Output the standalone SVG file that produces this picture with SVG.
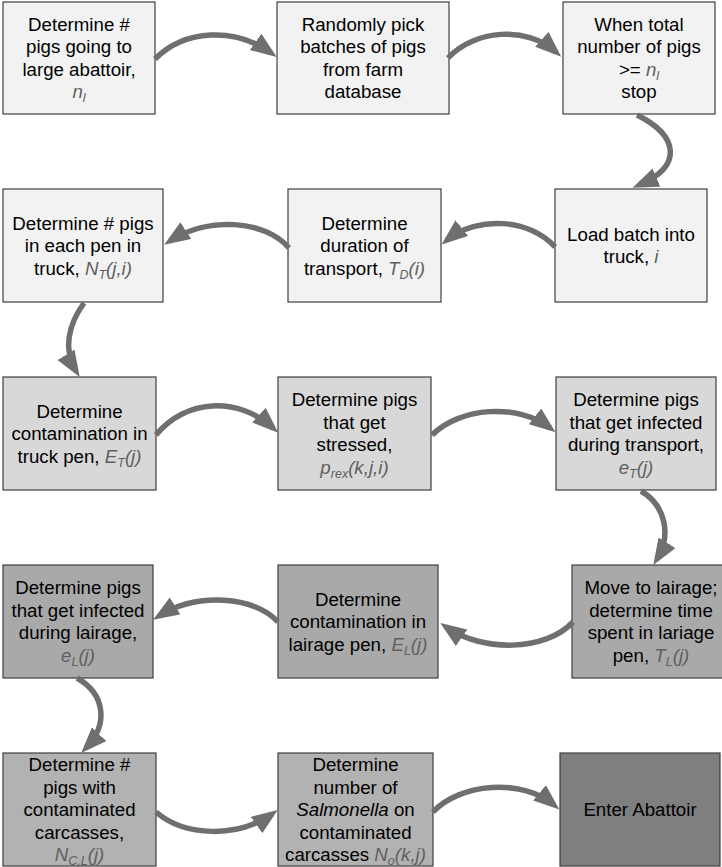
<svg xmlns="http://www.w3.org/2000/svg" width="722" height="867" viewBox="0 0 722 867">
<style>
.box{stroke:#3f3f3f;stroke-width:1.2}
.l1{fill:#f2f2f2}.l2{fill:#d8d8d8}.l3{fill:#a9a9a9}.l4{fill:#b2b2b2}.l5{fill:#7f7f7f}
text{font-family:"Liberation Sans",Arial,sans-serif;font-size:18.7px;fill:#000;text-anchor:middle}
.v{font-style:italic;fill:#5f5f5f}
.s{font-size:12.5px}
.it{font-style:italic}
.con path{fill:none;stroke:#6f6f6f;stroke-width:5.5;marker-end:url(#ah)}
</style>
<defs>
<marker id="ah" markerUnits="userSpaceOnUse" markerWidth="28" markerHeight="22" refX="19" refY="10" orient="auto">
<path d="M0,0 L26,10 L0,20 z" fill="#6f6f6f"/>
</marker>
</defs>
<rect width="722" height="867" fill="#fff"/>

<g id="n1"><rect class="box l1" x="3" y="2" width="152" height="112"/>
<text x="79" y="30.9">Determine #</text><text x="79" y="53.4">pigs going to</text><text x="79" y="75.9">large abattoir,</text>
<text x="79" y="98.4"><tspan class="v">n</tspan><tspan class="v s" dy="4">l</tspan></text></g>

<g id="n2"><rect class="box l1" x="277" y="2" width="172" height="112"/>
<text x="363" y="30.9">Randomly pick</text><text x="363" y="53.4">batches of pigs</text><text x="363" y="75.9">from farm</text><text x="363" y="98.4">database</text></g>

<g id="n3"><rect class="box l1" x="563" y="2" width="152" height="112"/>
<text x="639" y="30.9">When total</text><text x="639" y="53.4">number of pigs</text>
<text x="639" y="75.9">&gt;= <tspan class="v">n</tspan><tspan class="v s" dy="4">l</tspan></text>
<text x="639" y="98.4">stop</text></g>

<g id="n4"><rect class="box l1" x="3" y="189" width="160" height="113"/>
<text x="83" y="229.6">Determine # pigs</text><text x="83" y="252.1">in each pen in</text>
<text x="83" y="274.6">truck, <tspan class="v">N</tspan><tspan class="v s" dy="4">T</tspan><tspan class="v" dy="-4">(j,i)</tspan></text></g>

<g id="n5"><rect class="box l1" x="288" y="189" width="153" height="113"/>
<text x="364.5" y="229.6">Determine</text><text x="364.5" y="252.1">duration of</text>
<text x="364.5" y="274.6">transport, <tspan class="v">T</tspan><tspan class="v s" dy="4">D</tspan><tspan class="v" dy="-4">(i)</tspan></text></g>

<g id="n6"><rect class="box l1" x="555" y="189" width="152" height="113"/>
<text x="631" y="240.9">Load batch into</text>
<text x="631" y="263.4">truck, <tspan class="v">i</tspan></text></g>

<g id="n7"><rect class="box l2" x="3" y="377" width="153" height="113"/>
<text x="79.5" y="417.6">Determine</text><text x="79.5" y="440.1">contamination in</text>
<text x="79.5" y="462.6">truck pen, <tspan class="v">E</tspan><tspan class="v s" dy="4">T</tspan><tspan class="v" dy="-4">(j)</tspan></text></g>

<g id="n8"><rect class="box l2" x="278" y="377" width="153" height="113"/>
<text x="354.5" y="406.4">Determine pigs</text><text x="354.5" y="428.9">that get</text><text x="354.5" y="451.4">stressed,</text>
<text x="354.5" y="473.9"><tspan class="v">p</tspan><tspan class="v s" dy="4">rex</tspan><tspan class="v" dy="-4">(k,j,i)</tspan></text></g>

<g id="n9"><rect class="box l2" x="556" y="377" width="160" height="113"/>
<text x="636" y="406.4">Determine pigs</text><text x="636" y="428.9">that get infected</text><text x="636" y="451.4">during transport,</text>
<text x="636" y="473.9"><tspan class="v">e</tspan><tspan class="v s" dy="4">T</tspan><tspan class="v" dy="-4">(j)</tspan></text></g>

<g id="n10"><rect class="box l3" x="3" y="565" width="150" height="113"/>
<text x="78" y="594.4">Determine pigs</text><text x="78" y="616.9">that get infected</text><text x="78" y="639.4">during lairage,</text>
<text x="78" y="661.9"><tspan class="v">e</tspan><tspan class="v s" dy="4">L</tspan><tspan class="v" dy="-4">(j)</tspan></text></g>

<g id="n11"><rect class="box l3" x="278" y="565" width="160" height="113"/>
<text x="358" y="605.6">Determine</text><text x="358" y="628.1">contamination in</text>
<text x="358" y="650.6">lairage pen, <tspan class="v">E</tspan><tspan class="v s" dy="4">L</tspan><tspan class="v" dy="-4">(j)</tspan></text></g>

<g id="n12"><rect class="box l3" x="572" y="565" width="158" height="113"/>
<text x="651" y="594.4">Move to lairage;</text><text x="651" y="616.9">determine time</text><text x="651" y="639.4">spent in lariage</text>
<text x="651" y="661.9">pen, <tspan class="v">T</tspan><tspan class="v s" dy="4">L</tspan><tspan class="v" dy="-4">(j)</tspan></text></g>

<g id="n13"><rect class="box l4" x="3" y="753" width="153" height="113"/>
<text x="79.5" y="771.1">Determine #</text><text x="79.5" y="793.6">pigs with</text><text x="79.5" y="816.1">contaminated</text><text x="79.5" y="838.6">carcasses,</text>
<text x="79.5" y="861.1"><tspan class="v">N</tspan><tspan class="v s" dy="4">C,L</tspan><tspan class="v" dy="-4">(j)</tspan></text></g>

<g id="n14"><rect class="box l4" x="278" y="753" width="155" height="113"/>
<text x="355.5" y="771.1">Determine</text><text x="355.5" y="793.6">number of</text>
<text x="355.5" y="816.1"><tspan class="it">Salmonella</tspan> on</text><text x="355.5" y="838.6">contaminated</text>
<text x="355.5" y="861.1">carcasses <tspan class="v">N</tspan><tspan class="v s" dy="4">o</tspan><tspan class="v" dy="-4">(k,j)</tspan></text></g>

<g id="n15"><rect class="box l5" x="560" y="753" width="160" height="113"/>
<text x="640" y="816.1">Enter Abattoir</text></g>

<g id="connectors" class="con">
<path d="M155,59 C185,29 235,27 271,53"/>
<path d="M448,58 C475,29 527,26 556,52"/>
<path d="M637,115 C678,135 684,166 639,185"/>
<path d="M555,247 C530,219 478,215 447,240"/>
<path d="M289,248 C265,220 208,216 170,241"/>
<path d="M84,303 C68,325 63,350 76,371"/>
<path d="M156,435 C185,399 238,396 273,428"/>
<path d="M432,435 C460,407 518,403 550,428"/>
<path d="M641,491 C665,505 672,535 657,559"/>
<path d="M573,622 C545,652 482,652 446,627"/>
<path d="M278,622 C255,596 197,592 159,616"/>
<path d="M77,678 C105,694 109,724 86,748"/>
<path d="M156,812 C185,837 238,838 272,814"/>
<path d="M433,812 C460,783 522,778 554,805"/>
</g>
</svg>
